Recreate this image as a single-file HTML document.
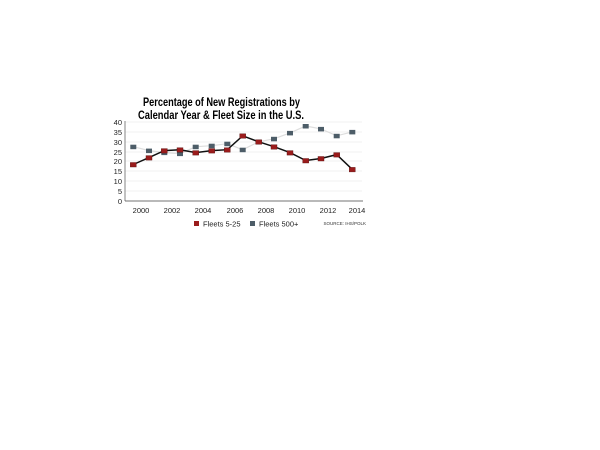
<!DOCTYPE html>
<html><head><style>
body{margin:0;background:#fff;width:600px;height:450px;overflow:hidden}
svg{position:absolute;left:0;top:0}
text{font-family:"Liberation Sans",sans-serif}
</style></head><body>
<svg width="600" height="450" viewBox="0 0 600 450">
<text x="143" y="106" font-size="11.5" font-weight="bold" textLength="157" lengthAdjust="spacingAndGlyphs">Percentage of New Registrations by</text>
<text x="138" y="119" font-size="11.5" font-weight="bold" textLength="166" lengthAdjust="spacingAndGlyphs">Calendar Year &amp; Fleet Size in the U.S.</text>
<g stroke="#ececec" stroke-width="0.8">
<line x1="125" x2="362" y1="122" y2="122"/><line x1="125" x2="362" y1="132" y2="132"/>
<line x1="125" x2="362" y1="142" y2="142"/><line x1="125" x2="362" y1="152" y2="152"/>
<line x1="125" x2="362" y1="161" y2="161"/><line x1="125" x2="362" y1="171" y2="171"/>
<line x1="125" x2="362" y1="181" y2="181"/><line x1="125" x2="362" y1="191" y2="191"/>
</g>
<line x1="125" y1="121" x2="125" y2="201" stroke="#666" stroke-width="0.8"/>
<line x1="125" y1="201" x2="363" y2="201" stroke="#444" stroke-width="0.8"/>
<g font-size="7.5" text-anchor="end" fill="#222">
<text x="122" y="125">40</text><text x="122" y="135">35</text><text x="122" y="145">30</text><text x="122" y="155">25</text><text x="122" y="164">20</text><text x="122" y="174">15</text><text x="122" y="184">10</text><text x="122" y="194">5</text><text x="122" y="204">0</text>
</g>
<g font-size="7.5" text-anchor="middle" fill="#222">
<text x="141" y="213">2000</text><text x="172" y="213">2002</text><text x="203" y="213">2004</text><text x="235" y="213">2006</text><text x="266" y="213">2008</text><text x="297" y="213">2010</text><text x="328" y="213">2012</text><text x="357" y="213">2014</text>
</g>
<polyline fill="none" stroke="#ddd" stroke-width="1.2" points="133.3,146.7 149,150.6 164.3,152.6 180,153.6 195.7,146.7 211.7,145.7 227.3,143.7 242.7,149.7 258.7,141.8 274,138.8 290,132.9 305.7,126 321,128.9 336.7,135.8 352.3,131.9"/>
<polyline fill="none" stroke="#111" stroke-width="1.5" points="133.3,164.5 149,157.6 164.3,150.6 180,149.7 195.7,152.6 211.7,150.6 227.3,149.7 242.7,135.8 258.7,141.8 274,146.7 290,152.6 305.7,160.5 321,158.5 336.7,154.6 352.3,169.4"/>
<g fill="#4d5d68">
<rect x="130.3" y="144.7" width="6" height="4.5"/><rect x="146" y="148.6" width="6" height="4.5"/><rect x="161.3" y="150.6" width="6" height="4.5"/><rect x="177" y="151.6" width="6" height="4.5"/><rect x="192.7" y="144.7" width="6" height="4.5"/><rect x="208.7" y="143.7" width="6" height="4.5"/><rect x="224.3" y="141.7" width="6" height="4.5"/><rect x="239.7" y="147.7" width="6" height="4.5"/><rect x="255.7" y="139.8" width="6" height="4.5"/><rect x="271" y="136.8" width="6" height="4.5"/><rect x="287" y="130.9" width="6" height="4.5"/><rect x="302.7" y="124" width="6" height="4.5"/><rect x="318" y="126.9" width="6" height="4.5"/><rect x="333.7" y="133.8" width="6" height="4.5"/><rect x="349.3" y="129.9" width="6" height="4.5"/>
</g>
<g fill="#9a1c1c" stroke="#5a1010" stroke-width="0.4">
<rect x="130.3" y="162.5" width="6" height="4.5"/><rect x="146" y="155.6" width="6" height="4.5"/><rect x="161.3" y="148.6" width="6" height="4.5"/><rect x="177" y="147.7" width="6" height="4.5"/><rect x="192.7" y="150.6" width="6" height="4.5"/><rect x="208.7" y="148.6" width="6" height="4.5"/><rect x="224.3" y="147.7" width="6" height="4.5"/><rect x="239.7" y="133.8" width="6" height="4.5"/><rect x="255.7" y="139.8" width="6" height="4.5"/><rect x="271" y="144.7" width="6" height="4.5"/><rect x="287" y="150.6" width="6" height="4.5"/><rect x="302.7" y="158.5" width="6" height="4.5"/><rect x="318" y="156.5" width="6" height="4.5"/><rect x="333.7" y="152.6" width="6" height="4.5"/><rect x="349.3" y="167.4" width="6" height="4.5"/>
</g>
<rect x="194" y="221" width="5" height="5" fill="#9a1c1c"/>
<text x="203" y="226.5" font-size="7.5" fill="#222">Fleets 5-25</text>
<rect x="250" y="221" width="5" height="5" fill="#4d5d68"/>
<text x="259" y="226.5" font-size="7.5" fill="#222">Fleets 500+</text>
<text x="366" y="225" font-size="4.5" text-anchor="end" fill="#333">SOURCE: IHS/POLK</text>
</svg>
</body></html>
